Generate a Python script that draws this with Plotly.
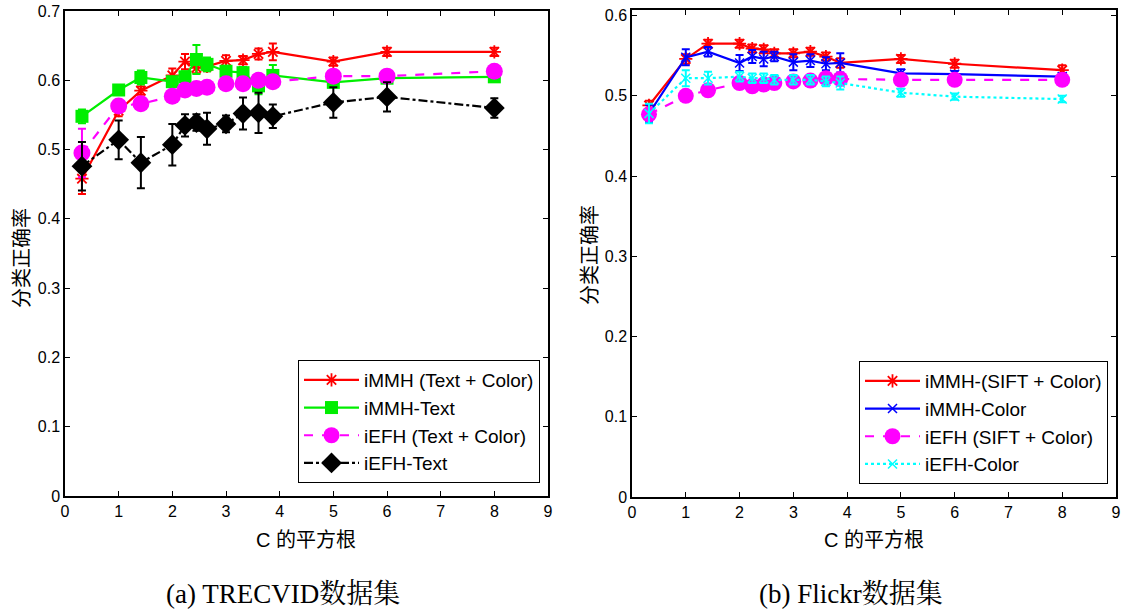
import plotly.graph_objects as go

# sqrt(C) sample positions shared by every series
sqrt_c = [0.316, 1, 1.414, 2, 2.236, 2.449, 2.646, 3, 3.317, 3.606, 3.873, 5, 6, 8]
x_ticks = list(range(0, 10))

# (a) TRECVID
trec_immh_tc = [0.458, 0.556, 0.585, 0.607, 0.627, 0.618, 0.620, 0.628, 0.629, 0.638, 0.641, 0.627, 0.641, 0.641]
trec_immh_tc_err = [0.022, 0.008, 0.006, 0.010, 0.011, 0.008, 0.007, 0.008, 0.006, 0.008, 0.012, 0.006, 0.006, 0.006]
trec_immh_t = [0.548, 0.586, 0.604, 0.598, 0.605, 0.630, 0.623, 0.613, 0.611, 0.592, 0.607, 0.597, 0.603, 0.605]
trec_immh_t_err = [0.010, 0.006, 0.010, 0.006, 0.008, 0.021, 0.010, 0.008, 0.008, 0.012, 0.015, 0.006, 0.006, 0.006]
trec_iefh_tc = [0.495, 0.563, 0.566, 0.577, 0.586, 0.588, 0.590, 0.595, 0.595, 0.600, 0.598, 0.606, 0.606, 0.613]
trec_iefh_tc_err = [0.035, 0.006, 0.005, 0.005, 0.006, 0.005, 0.005, 0.005, 0.005, 0.005, 0.005, 0.004, 0.004, 0.004]
trec_iefh_t = [0.476, 0.514, 0.481, 0.507, 0.535, 0.539, 0.530, 0.537, 0.552, 0.553, 0.548, 0.568, 0.576, 0.560]
trec_iefh_t_err = [0.035, 0.028, 0.037, 0.030, 0.016, 0.012, 0.023, 0.012, 0.023, 0.029, 0.017, 0.022, 0.021, 0.014]

# (b) Flickr
flk_immh_sc = [0.488, 0.546, 0.565, 0.565, 0.559, 0.558, 0.553, 0.553, 0.555, 0.549, 0.541, 0.546, 0.540, 0.532]
flk_immh_sc_err = [0.006, 0.006, 0.005, 0.005, 0.005, 0.005, 0.005, 0.005, 0.005, 0.005, 0.006, 0.005, 0.005, 0.006]
flk_immh_c = [0.478, 0.548, 0.555, 0.541, 0.549, 0.546, 0.549, 0.542, 0.544, 0.540, 0.541, 0.528, 0.527, 0.524]
flk_immh_c_err = [0.011, 0.010, 0.006, 0.010, 0.008, 0.009, 0.006, 0.010, 0.008, 0.008, 0.012, 0.005, 0.004, 0.004]
flk_iefh_sc = [0.477, 0.500, 0.507, 0.516, 0.512, 0.514, 0.516, 0.518, 0.519, 0.522, 0.521, 0.520, 0.520, 0.520]
flk_iefh_sc_err = [0.004, 0.004, 0.004, 0.004, 0.004, 0.004, 0.004, 0.004, 0.004, 0.004, 0.004, 0.004, 0.004, 0.004]
flk_iefh_c = [0.478, 0.522, 0.522, 0.524, 0.522, 0.522, 0.520, 0.520, 0.520, 0.518, 0.516, 0.504, 0.499, 0.496]
flk_iefh_c_err = [0.012, 0.010, 0.008, 0.006, 0.006, 0.006, 0.006, 0.006, 0.006, 0.006, 0.008, 0.005, 0.004, 0.004]

W, H = 1129, 614
SANS = "Liberation Sans, Arial, Noto Sans CJK SC"
SERIF = "Liberation Serif, Times New Roman, Noto Serif CJK SC, Noto Sans CJK SC"


def series(x, y, err, name, color, dash, symbol, size, xa, ya, legend, mline=0):
    return go.Scatter(
        x=x, y=y, name=name, mode="lines+markers",
        xaxis=xa, yaxis=ya, legend=legend,
        line=dict(color=color, width=2.2, dash=dash),
        marker=dict(symbol=symbol, size=size, color=color,
                    line=dict(color=color, width=mline)),
        error_y=dict(type="data", array=err, visible=True,
                     color=color, thickness=2, width=4),
    )


fig = go.Figure()

# left panel
fig.add_trace(series(sqrt_c, trec_immh_tc, trec_immh_tc_err, "iMMH (Text + Color)",
                     "#ff0000", "solid", "asterisk-open", 11, "x", "y", "legend", 1.8))
fig.add_trace(series(sqrt_c, trec_immh_t, trec_immh_t_err, "iMMH-Text",
                     "#00ee00", "solid", "square", 13, "x", "y", "legend"))
fig.add_trace(series(sqrt_c, trec_iefh_tc, trec_iefh_tc_err, "iEFH (Text + Color)",
                     "#ff00ff", "dash", "circle", 17, "x", "y", "legend"))
fig.add_trace(series(sqrt_c, trec_iefh_t, trec_iefh_t_err, "iEFH-Text",
                     "#000000", "dashdot", "diamond", 16, "x", "y", "legend"))

# right panel
fig.add_trace(series(sqrt_c, flk_immh_sc, flk_immh_sc_err, "iMMH-(SIFT + Color)",
                     "#ff0000", "solid", "asterisk-open", 11, "x2", "y2", "legend2", 1.8))
fig.add_trace(series(sqrt_c, flk_immh_c, flk_immh_c_err, "iMMH-Color",
                     "#0000ff", "solid", "x-thin-open", 9, "x2", "y2", "legend2", 1.5))
fig.add_trace(series(sqrt_c, flk_iefh_sc, flk_iefh_sc_err, "iEFH (SIFT + Color)",
                     "#ff00ff", "dash", "circle", 16, "x2", "y2", "legend2"))
fig.add_trace(series(sqrt_c, flk_iefh_c, flk_iefh_c_err, "iEFH-Color",
                     "#00ffff", "dot", "x-thin-open", 9, "x2", "y2", "legend2", 1.5))

axis_common = dict(
    showline=True, linecolor="black", linewidth=1.5, mirror="ticks",
    ticks="inside", ticklen=5, tickwidth=1, tickcolor="black",
    showgrid=False, zeroline=False,
    tickfont=dict(family=SANS, size=16, color="black"),
)

legend_common = dict(
    xanchor="right", yanchor="bottom",
    bgcolor="white", bordercolor="black", borderwidth=1,
    font=dict(family=SANS, size=19, color="black"),
    itemwidth=55, tracegroupgap=0,
)

fig.update_layout(
    width=W, height=H,
    margin=dict(l=0, r=0, t=0, b=0, autoexpand=False),
    paper_bgcolor="white", plot_bgcolor="white",
    xaxis=dict(domain=[65 / W, 548 / W], range=[0, 9], tickvals=x_ticks,
               anchor="y", **axis_common),
    yaxis=dict(domain=[1 - 496 / H, 1 - 11 / H], range=[0, 0.7],
               tickvals=[0, 0.1, 0.2, 0.3, 0.4, 0.5, 0.6, 0.7],
               ticktext=["0", "0.1", "0.2", "0.3", "0.4", "0.5", "0.6", "0.7"],
               anchor="x", **axis_common),
    xaxis2=dict(domain=[632 / W, 1116 / W], range=[0, 9], tickvals=x_ticks,
                anchor="y2", **axis_common),
    yaxis2=dict(domain=[1 - 497 / H, 1 - 10 / H], range=[0, 0.607],
                tickvals=[0, 0.1, 0.2, 0.3, 0.4, 0.5, 0.6],
                ticktext=["0", "0.1", "0.2", "0.3", "0.4", "0.5", "0.6"],
                anchor="x2", **axis_common),
    legend=dict(x=540 / W, y=1 - 483 / H, **legend_common),
    legend2=dict(x=1108 / W, y=1 - 484 / H, **legend_common),
    showlegend=True,
)

# axis titles and panel captions
labels = [
    dict(x=306 / W, y=1 - 540 / H, text="C 的平方根", size=20, family=SANS, angle=0),
    dict(x=874 / W, y=1 - 540 / H, text="C 的平方根", size=20, family=SANS, angle=0),
    dict(x=22 / W, y=1 - 258 / H, text="分类正确率", size=20, family=SANS, angle=-90),
    dict(x=590 / W, y=1 - 255 / H, text="分类正确率", size=20, family=SANS, angle=-90),
    dict(x=283 / W, y=1 - 594 / H, text="(a) TRECVID数据集", size=27, family=SERIF, angle=0),
    dict(x=851 / W, y=1 - 594 / H, text="(b) Flickr数据集", size=27, family=SERIF, angle=0),
]
for lb in labels:
    fig.add_annotation(x=lb["x"], y=lb["y"], xref="paper", yref="paper",
                       text=lb["text"], showarrow=False, textangle=lb["angle"],
                       xanchor="center", yanchor="middle",
                       font=dict(family=lb["family"], size=lb["size"], color="black"))

fig.write_html("out.html")
